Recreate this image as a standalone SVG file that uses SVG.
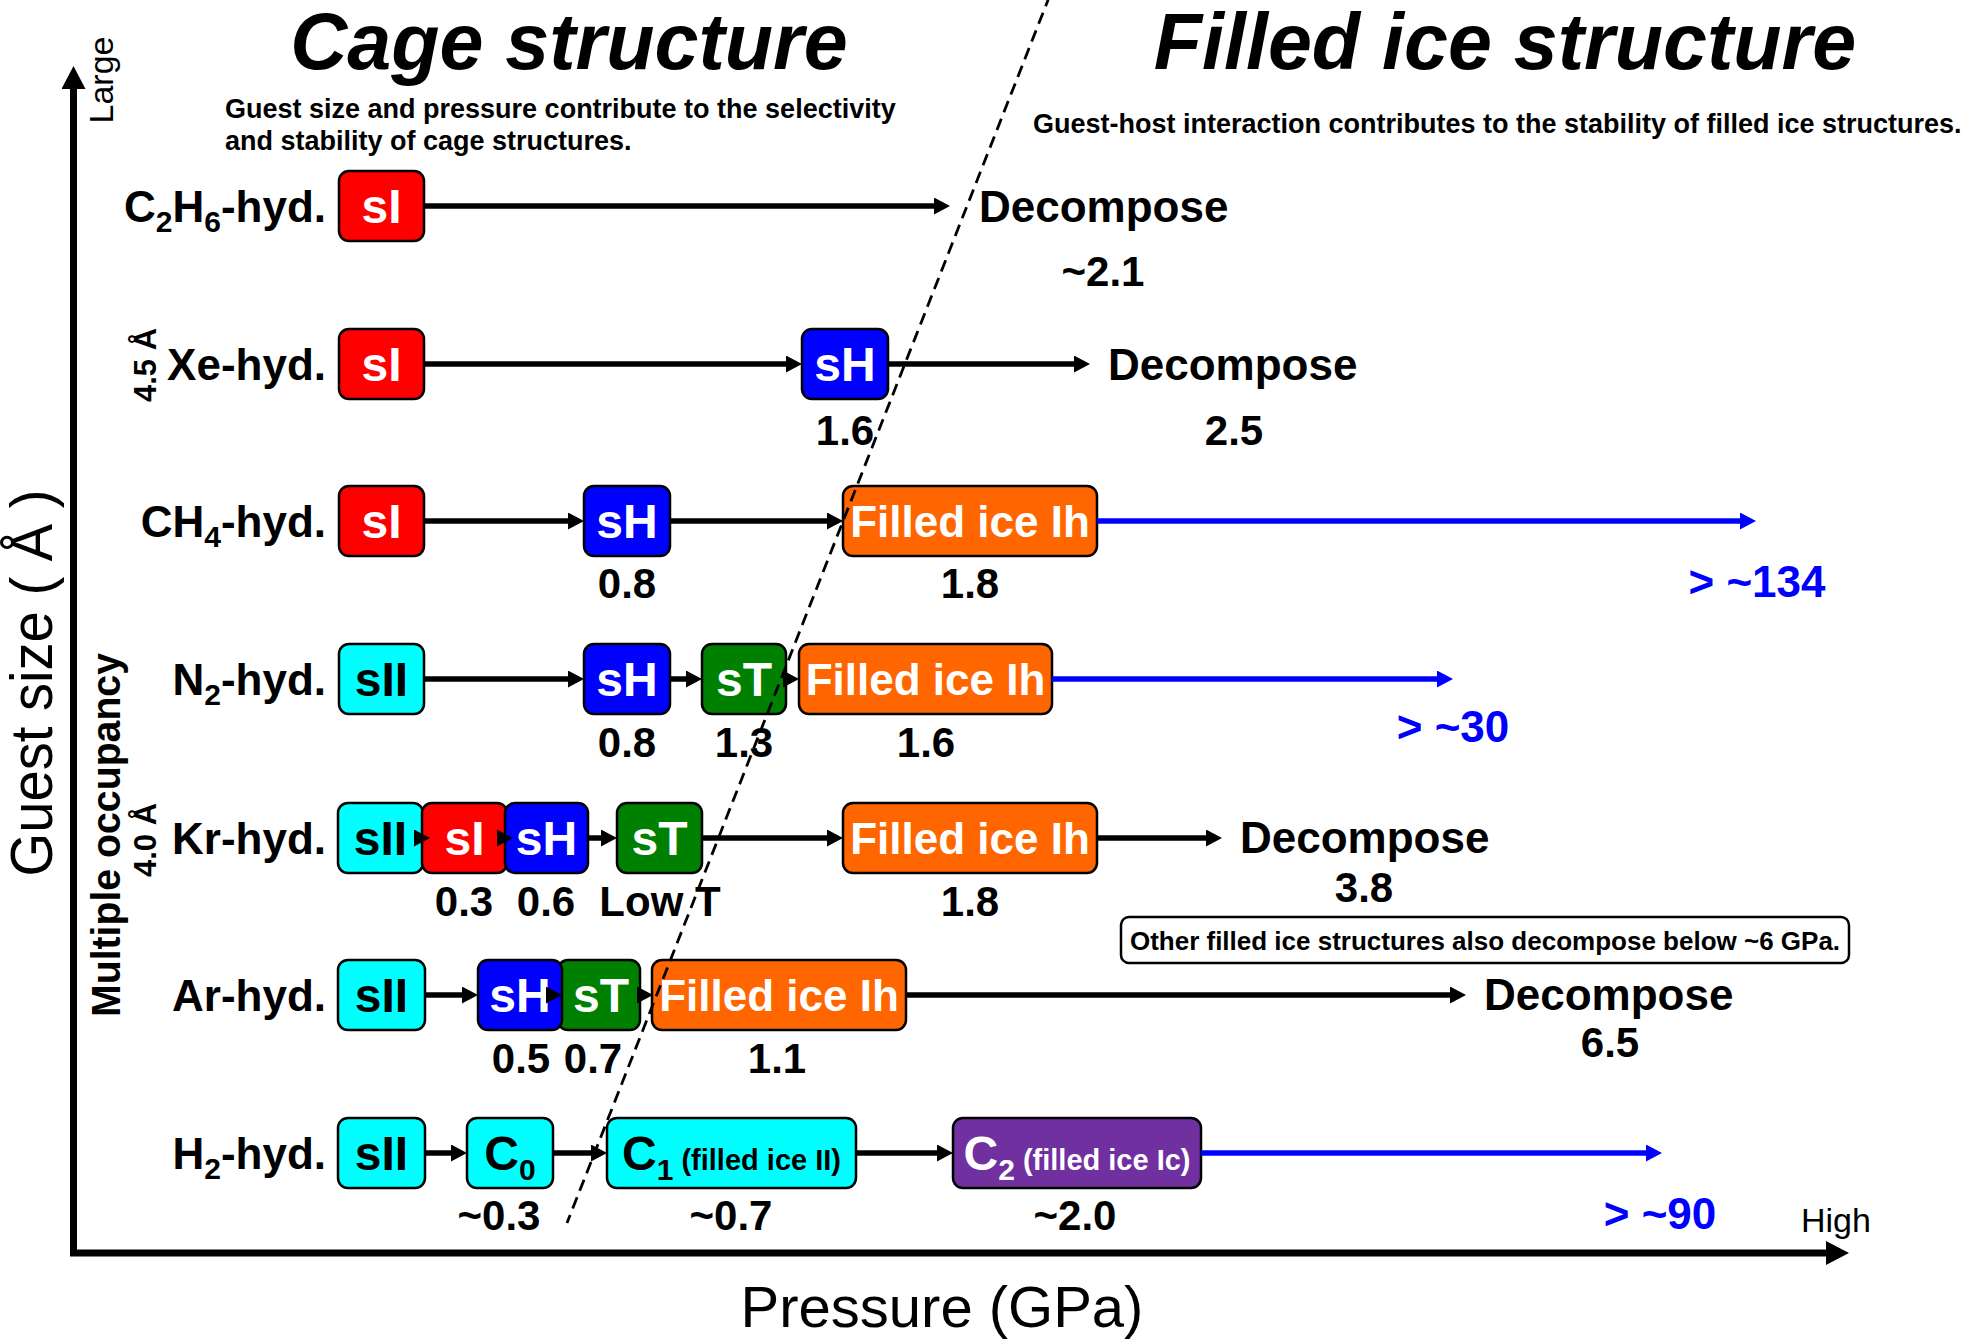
<svg xmlns="http://www.w3.org/2000/svg" width="1961" height="1339" viewBox="0 0 1961 1339">
<style>
text{font-family:"Liberation Sans",Arial,sans-serif;fill:#000}
.title{font-weight:bold;font-style:italic;font-size:79px;text-anchor:middle}
.sub{font-weight:bold;font-size:27px}
.row{font-weight:bold;font-size:44px;text-anchor:end}
.box{stroke:#000;stroke-width:2.5}
.lbl{font-weight:bold;font-size:48px;text-anchor:middle}
.lblf{font-weight:bold;font-size:44px;text-anchor:middle}
text.w{fill:#fff}
.val{font-weight:bold;font-size:42px;text-anchor:middle}
.dec{font-weight:bold;font-size:44px}
text.blue{font-weight:bold;font-size:44px;text-anchor:middle;fill:#0000FF}
.red{fill:#FF0000}.cyan{fill:#00FFFF}.bl{fill:#0000FF}.gr{fill:#008000}.or{fill:#FF6600}.pu{fill:#7030A0}
.arr{stroke:#000;stroke-width:5.5;fill:none;marker-end:url(#ah)}
.arrb{stroke:#0000FF;stroke-width:5.5;fill:none;marker-end:url(#ahb)}
.axis{stroke:#000;stroke-width:7;fill:none;stroke-linejoin:miter;marker-start:url(#axh);marker-end:url(#axh)}
.dash{stroke:#000;stroke-width:2.8;stroke-dasharray:12 7;fill:none}
</style>
<defs>
<marker id="ah" markerUnits="userSpaceOnUse" markerWidth="16" markerHeight="17" refX="4" refY="8.5" orient="auto"><path d="M0,0 L16,8.5 L0,17 Z" fill="#000"/></marker>
<marker id="ahb" markerUnits="userSpaceOnUse" markerWidth="16" markerHeight="17" refX="4" refY="8.5" orient="auto"><path d="M0,0 L16,8.5 L0,17 Z" fill="#0000FF"/></marker>
<marker id="axh" markerUnits="userSpaceOnUse" markerWidth="24" markerHeight="24" refX="3" refY="12" orient="auto-start-reverse"><path d="M0,0 L23,12 L0,24 Z" fill="#000"/></marker>
</defs>

<g id="axes">
<path class="axis" d="M73.5,86 V1253 H1829"/>
<text transform="translate(113,80) rotate(-90)" text-anchor="middle" font-size="34">Large</text>
<text x="1801" y="1232" font-size="34">High</text>
<text transform="translate(52,683) rotate(-90)" text-anchor="middle" font-size="60" textLength="387" lengthAdjust="spacingAndGlyphs">Guest size ( Å )</text>
<text x="942" y="1327" text-anchor="middle" font-size="58">Pressure (GPa)</text>
<text transform="translate(120,835) rotate(-90)" text-anchor="middle" font-size="41" font-weight="bold" textLength="364" lengthAdjust="spacingAndGlyphs">Multiple occupancy</text>
<text transform="translate(156,365) rotate(-90)" text-anchor="middle" font-size="31" font-weight="bold">4.5 Å</text>
<text transform="translate(156,840) rotate(-90)" text-anchor="middle" font-size="31" font-weight="bold">4.0 Å</text>
</g>

<g id="headings">
<text class="title" x="569" y="69">Cage structure</text>
<text class="title" x="1505" y="69">Filled ice structure</text>
<text class="sub" x="225" y="118">Guest size and pressure contribute to the selectivity</text>
<text class="sub" x="225" y="150">and stability of cage structures.</text>
<text class="sub" x="1033" y="133">Guest-host interaction contributes to the stability of filled ice structures.</text>
</g>

<g id="row-c2h6">
<text class="row" x="326" y="222">C<tspan font-size="30" dy="10">2</tspan><tspan dy="-10">H</tspan><tspan font-size="30" dy="10">6</tspan><tspan dy="-10">-hyd.</tspan></text>
<g id="c2h6-sI"><rect class="box red" x="339" y="171" width="85" height="70" rx="10"/><text class="lbl w" x="381.5" y="223">sI</text></g>
<text class="dec" x="979" y="222">Decompose</text>
<text class="val" x="1103" y="286">~2.1</text>
</g>

<g id="row-xe">
<text class="row" x="326" y="380">Xe-hyd.</text>
<g id="xe-sI"><rect class="box red" x="339" y="329" width="85" height="70" rx="10"/><text class="lbl w" x="381.5" y="381">sI</text></g>
<g id="xe-sH"><rect class="box bl" x="802" y="329" width="86" height="70" rx="10"/><text class="lbl w" x="845" y="381">sH</text></g>
<text class="val" x="845" y="445">1.6</text>
<text class="dec" x="1108" y="380">Decompose</text>
<text class="val" x="1234" y="445">2.5</text>
</g>

<g id="row-ch4">
<text class="row" x="326" y="537">CH<tspan font-size="30" dy="10">4</tspan><tspan dy="-10">-hyd.</tspan></text>
<g id="ch4-sI"><rect class="box red" x="339" y="486" width="85" height="70" rx="10"/><text class="lbl w" x="381.5" y="538">sI</text></g>
<g id="ch4-sH"><rect class="box bl" x="584" y="486" width="86" height="70" rx="10"/><text class="lbl w" x="627" y="538">sH</text></g>
<g id="ch4-Ih"><rect class="box or" x="843" y="486" width="254" height="70" rx="10"/><text class="lblf w" x="970" y="537">Filled ice Ih</text></g>
<text class="val" x="627" y="598">0.8</text>
<text class="val" x="970" y="598">1.8</text>
<text class="blue" x="1757" y="597">&gt; ~134</text>
</g>

<g id="row-n2">
<text class="row" x="326" y="695">N<tspan font-size="30" dy="10">2</tspan><tspan dy="-10">-hyd.</tspan></text>
<g id="n2-sII"><rect class="box cyan" x="339" y="644" width="85" height="70" rx="10"/><text class="lbl" x="381.5" y="696">sII</text></g>
<g id="n2-sH"><rect class="box bl" x="584" y="644" width="86" height="70" rx="10"/><text class="lbl w" x="627" y="696">sH</text></g>
<g id="n2-sT"><rect class="box gr" x="702" y="644" width="84" height="70" rx="10"/><text class="lbl w" x="744" y="696">sT</text></g>
<g id="n2-Ih"><rect class="box or" x="799" y="644" width="253" height="70" rx="10"/><text class="lblf w" x="925.5" y="695">Filled ice Ih</text></g>
<text class="val" x="627" y="757">0.8</text>
<text class="val" x="744" y="757">1.3</text>
<text class="val" x="926" y="757">1.6</text>
<text class="blue" x="1453" y="742">&gt; ~30</text>
</g>

<g id="row-kr">
<text class="row" x="326" y="854">Kr-hyd.</text>
<g id="kr-sII"><rect class="box cyan" x="338" y="803" width="85" height="70" rx="10"/><text class="lbl" x="380.5" y="855">sII</text></g>
<g id="kr-sI"><rect class="box red" x="422" y="803" width="85" height="70" rx="10"/><text class="lbl w" x="464.5" y="855">sI</text></g>
<g id="kr-sH"><rect class="box bl" x="505" y="803" width="83" height="70" rx="10"/><text class="lbl w" x="546.5" y="855">sH</text></g>
<g id="kr-sT"><rect class="box gr" x="617" y="803" width="85" height="70" rx="10"/><text class="lbl w" x="659.5" y="855">sT</text></g>
<g id="kr-Ih"><rect class="box or" x="843" y="803" width="254" height="70" rx="10"/><text class="lblf w" x="970" y="854">Filled ice Ih</text></g>
<text class="val" x="464" y="916">0.3</text>
<text class="val" x="546" y="916">0.6</text>
<text class="val" x="660" y="916">Low T</text>
<text class="val" x="970" y="916">1.8</text>
<text class="dec" x="1240" y="853">Decompose</text>
<text class="val" x="1364" y="902">3.8</text>
</g>

<g id="note">
<rect x="1121" y="917" width="728" height="46" rx="8" fill="#fff" stroke="#000" stroke-width="2.5"/>
<text x="1485" y="950" text-anchor="middle" font-size="26" font-weight="bold">Other filled ice structures also decompose below ~6 GPa.</text>
</g>

<g id="row-ar">
<text class="row" x="326" y="1011">Ar-hyd.</text>
<g id="ar-sII"><rect class="box cyan" x="338" y="960" width="87" height="70" rx="10"/><text class="lbl" x="381.5" y="1012">sII</text></g>
<g id="ar-sT"><rect class="box gr" x="558" y="960" width="82" height="70" rx="10"/><text class="lbl w" x="601" y="1012">sT</text></g>
<g id="ar-sH"><rect class="box bl" x="478" y="960" width="84" height="70" rx="10"/><text class="lbl w" x="520" y="1012">sH</text></g>
<g id="ar-Ih"><rect class="box or" x="652" y="960" width="254" height="70" rx="10"/><text class="lblf w" x="779" y="1011">Filled ice Ih</text></g>
<text class="val" x="521" y="1073">0.5</text>
<text class="val" x="593" y="1073">0.7</text>
<text class="val" x="777" y="1073">1.1</text>
<text class="dec" x="1484" y="1010">Decompose</text>
<text class="val" x="1610" y="1057">6.5</text>
</g>

<g id="row-h2">
<text class="row" x="326" y="1169">H<tspan font-size="30" dy="10">2</tspan><tspan dy="-10">-hyd.</tspan></text>
<g id="h2-sII"><rect class="box cyan" x="338" y="1118" width="87" height="70" rx="10"/><text class="lbl" x="381.5" y="1170">sII</text></g>
<g id="h2-C0"><rect class="box cyan" x="467" y="1118" width="86" height="70" rx="10"/><text class="lbl" x="510" y="1170">C<tspan font-size="30" dy="10">0</tspan></text></g>
<g id="h2-C1"><rect class="box cyan" x="607" y="1118" width="249" height="70" rx="10"/><text class="lbl" x="731.5" y="1170">C<tspan font-size="30" dy="10">1</tspan><tspan font-size="29" dy="-10"> (filled ice II)</tspan></text></g>
<g id="h2-C2"><rect class="box pu" x="953" y="1118" width="248" height="70" rx="10"/><text class="lbl w" x="1077" y="1170">C<tspan font-size="30" dy="10">2</tspan><tspan font-size="29" dy="-10"> (filled ice Ic)</tspan></text></g>
<text class="val" x="499" y="1230">~0.3</text>
<text class="val" x="731" y="1230">~0.7</text>
<text class="val" x="1075" y="1230">~2.0</text>
<text class="blue" x="1660" y="1229">&gt; ~90</text>
</g>

<g id="connectors">
<path class="arr" d="M424,206 H938"/>
<path class="arr" d="M424,364 H790"/>
<path class="arr" d="M888,364 H1078"/>
<path class="arr" d="M424,521 H572"/>
<path class="arr" d="M670,521 H831"/>
<path class="arrb" d="M1097,521 H1744"/>
<path class="arr" d="M424,679 H572"/>
<path class="arr" d="M670,679 H690"/>
<path class="arr" d="M786,679 H787"/>
<path class="arrb" d="M1052,679 H1441"/>
<path class="arr" d="M414,838 H418"/>
<path class="arr" d="M497,838 H501"/>
<path class="arr" d="M588,838 H605"/>
<path class="arr" d="M702,838 H831"/>
<path class="arr" d="M1097,838 H1210"/>
<path class="arr" d="M425,995 H466"/>
<path class="arr" d="M546,995 H550"/>
<path class="arr" d="M640,995 H641"/>
<path class="arr" d="M906,995 H1454"/>
<path class="arr" d="M425,1153 H455"/>
<path class="arr" d="M553,1153 H595"/>
<path class="arr" d="M856,1153 H941"/>
<path class="arrb" d="M1201,1153 H1650"/>
<path class="dash" d="M1050,-5 L567,1223"/>
</g>
</svg>
